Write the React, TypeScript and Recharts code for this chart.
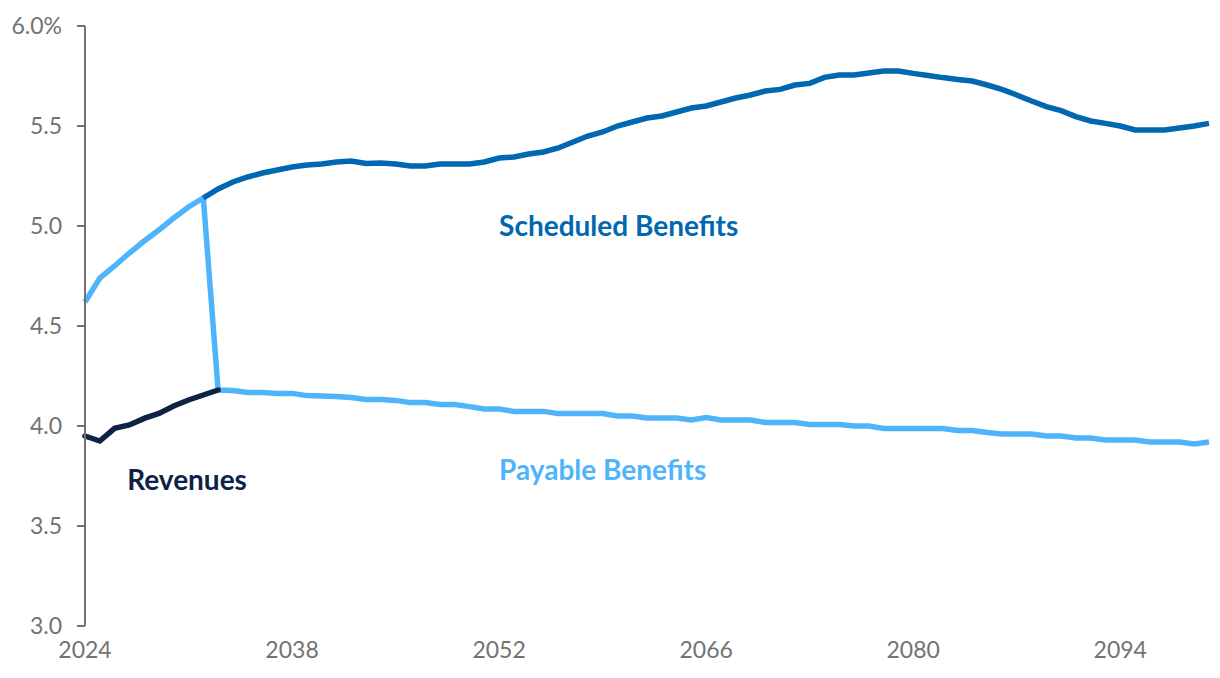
import { LineChart, Line, XAxis, YAxis, ReferenceDot } from 'recharts';

const firstYear = 2024;
const lastYear = 2100;

const xTicks = [2024, 2038, 2052, 2066, 2080, 2094];
const yTicks = [3.0, 3.5, 4.0, 4.5, 5.0, 5.5, 6.0];

// scheduled benefits, 2032 onward (the point where the dark line starts)
const scheduledStart = 2032;
const scheduled = [
	5.14, 5.185, 5.22, 5.245, 5.265, 5.28, 5.295, 5.305, 5.31, 5.32,
	5.325, 5.313, 5.315, 5.31, 5.3, 5.3, 5.31, 5.31, 5.31, 5.32,
	5.34, 5.345, 5.36, 5.37, 5.39, 5.42, 5.45, 5.47, 5.5, 5.52,
	5.54, 5.55, 5.57, 5.59, 5.6, 5.62, 5.64, 5.655, 5.675, 5.683,
	5.705, 5.713, 5.743, 5.755, 5.755, 5.765, 5.775, 5.775, 5.763, 5.753,
	5.742, 5.733, 5.725, 5.705, 5.683, 5.655, 5.625, 5.597, 5.577, 5.547,
	5.525, 5.513, 5.5, 5.48, 5.48, 5.48, 5.49, 5.5, 5.513,
];

// payable benefits, 2024-2100 (same as scheduled until depletion)
const payable = [
	4.62, 4.74, 4.8, 4.865, 4.925, 4.98, 5.04, 5.095, 5.14, 4.18,
	4.177, 4.167, 4.167, 4.163, 4.163, 4.152, 4.15, 4.148, 4.143, 4.133,
	4.133, 4.128, 4.117, 4.117, 4.107, 4.107, 4.097, 4.085, 4.085, 4.073,
	4.073, 4.073, 4.062, 4.062, 4.062, 4.062, 4.05, 4.05, 4.04, 4.04,
	4.04, 4.03, 4.042, 4.03, 4.03, 4.03, 4.018, 4.018, 4.018, 4.008,
	4.008, 4.008, 4.0, 4.0, 3.988, 3.988, 3.988, 3.988, 3.988, 3.978,
	3.978, 3.968, 3.96, 3.96, 3.96, 3.95, 3.95, 3.94, 3.94, 3.93,
	3.93, 3.93, 3.92, 3.92, 3.92, 3.91, 3.92,
];

// revenues, 2024-2033
const revenues = [3.95, 3.925, 3.988, 4.005, 4.038, 4.063, 4.1, 4.13, 4.155, 4.18];

const data = payable.map((p, i) => {
	const year = firstYear + i;
	const s = year >= scheduledStart ? scheduled[year - scheduledStart] : null;
	const r = i < revenues.length ? revenues[i] : null;
	return { year, payable: p, scheduled: s, revenues: r };
});

const DARK = '#0067b1';
const LIGHT = '#50b4fb';
const NAVY = '#0e2246';
const GRAY = '#737373';

const SeriesLabel = ({ viewBox, text, color }: any) => {
	const { cx, cy, x, y } = viewBox || {};
	return (
		<text
			x={cx ?? x}
			y={cy ?? y}
			fill={color}
			fontFamily='Lato'
			fontWeight={700}
			fontSize={28}
			textAnchor='start'
			dominantBaseline='central'>
			{text}
		</text>
	);
};

export default function App() {
	return (
		<div style={{ margin: -8, width: 1220, height: 678, background: '#fff' }}>
			<LineChart
				width={1220}
				height={678}
				data={data}
				margin={{ top: 26, right: 11, left: 0, bottom: 0 }}>
				<XAxis
					dataKey='year'
					type='number'
					domain={[firstYear, lastYear]}
					ticks={xTicks}
					axisLine={false}
					tickLine={false}
					height={52}
					tick={{ fill: GRAY, fontSize: 23, fontFamily: 'Lato', dy: 8 }}
				/>
				<YAxis
					type='number'
					domain={[3, 6]}
					ticks={yTicks}
					width={85}
					axisLine={{ stroke: GRAY, strokeWidth: 2 }}
					tickLine={{ stroke: GRAY, strokeWidth: 2 }}
					tickSize={8}
					tickMargin={15}
					tickFormatter={(v: number) => (v === 6 ? '6.0%' : v.toFixed(1))}
					tick={{ fill: GRAY, fontSize: 23, fontFamily: 'Lato' }}
				/>
				<Line
					type='linear'
					dataKey='payable'
					stroke={LIGHT}
					strokeWidth={5.5}
					dot={false}
					isAnimationActive={false}
				/>
				<Line
					type='linear'
					dataKey='scheduled'
					stroke={DARK}
					strokeWidth={5.5}
					dot={false}
					isAnimationActive={false}
				/>
				<Line
					type='linear'
					dataKey='revenues'
					stroke={NAVY}
					strokeWidth={5.5}
					strokeLinecap='round'
					dot={false}
					isAnimationActive={false}
				/>
				<ReferenceDot
					x={2052}
					y={5.005}
					r={0}
					label={<SeriesLabel text='Scheduled Benefits' color={DARK} />}
				/>
				<ReferenceDot
					x={2052}
					y={3.785}
					r={0}
					label={<SeriesLabel text='Payable Benefits' color={LIGHT} />}
				/>
				<ReferenceDot
					x={2026.85}
					y={3.735}
					r={0}
					label={<SeriesLabel text='Revenues' color={NAVY} />}
				/>
			</LineChart>
		</div>
	);
}
